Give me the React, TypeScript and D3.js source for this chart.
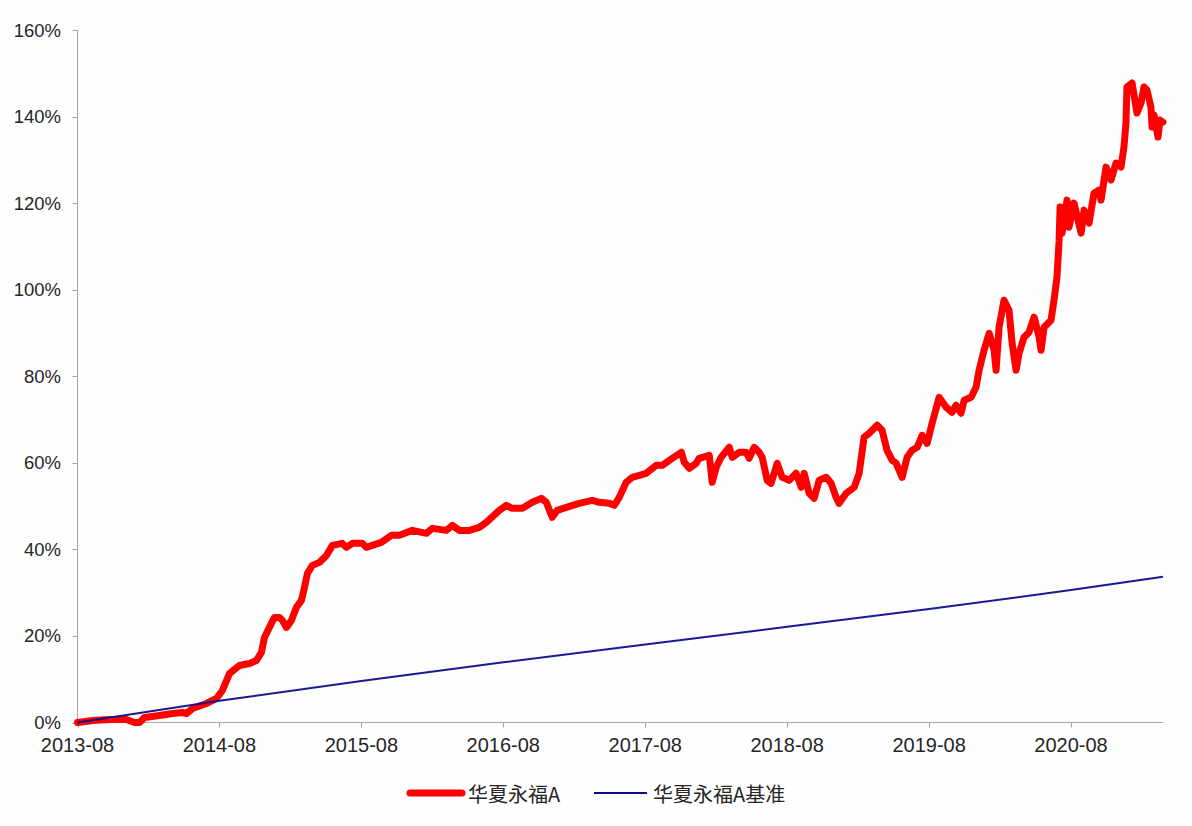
import React from "react";
import * as d3 from "d3";

// Time expressed as decimal years (2013-08 = 2013.583)
const fundYears: number[] = [
  2013.583, 2013.689, 2013.808, 2013.928, 2013.984, 2014.02, 2014.055, 2014.16, 2014.252, 2014.322,
  2014.351, 2014.393, 2014.491, 2014.562, 2014.604, 2014.654, 2014.724, 2014.795, 2014.844, 2014.879,
  2014.9, 2014.935, 2014.97, 2015.006, 2015.027, 2015.055, 2015.09, 2015.125, 2015.161, 2015.182,
  2015.203, 2015.238, 2015.287, 2015.337, 2015.379, 2015.449, 2015.477, 2015.52, 2015.59, 2015.618,
  2015.66, 2015.724, 2015.794, 2015.851, 2015.942, 2016.041, 2016.083, 2016.182, 2016.224, 2016.273,
  2016.344, 2016.414, 2016.463, 2016.555, 2016.604, 2016.646, 2016.717, 2016.787, 2016.851, 2016.886,
  2016.928, 2016.963, 2017.027, 2017.118, 2017.21, 2017.259, 2017.33, 2017.365, 2017.4, 2017.449,
  2017.491, 2017.541, 2017.59, 2017.661, 2017.703, 2017.773, 2017.837, 2017.858, 2017.893, 2017.942,
  2017.963, 2018.034, 2018.055, 2018.083, 2018.118, 2018.175, 2018.196, 2018.245, 2018.294, 2018.315,
  2018.351, 2018.386, 2018.407, 2018.442, 2018.47, 2018.513, 2018.548, 2018.597, 2018.646, 2018.682,
  2018.703, 2018.738, 2018.773, 2018.808, 2018.858, 2018.893, 2018.928, 2018.949, 2018.999, 2019.055,
  2019.09, 2019.125, 2019.161, 2019.217, 2019.252, 2019.287, 2019.323, 2019.351, 2019.393, 2019.428,
  2019.463, 2019.499, 2019.534, 2019.569, 2019.604, 2019.654, 2019.703, 2019.745, 2019.773, 2019.808,
  2019.83, 2019.879, 2019.914, 2019.935, 2019.97, 2020.006, 2020.041, 2020.055, 2020.076, 2020.111,
  2020.146, 2020.168, 2020.196, 2020.217, 2020.252, 2020.287, 2020.323, 2020.358, 2020.372, 2020.393,
  2020.442, 2020.463, 2020.484, 2020.491, 2020.499, 2020.506, 2020.52, 2020.555, 2020.569, 2020.604,
  2020.654, 2020.675, 2020.71, 2020.745, 2020.78, 2020.794, 2020.83, 2020.865, 2020.9, 2020.935,
  2020.956, 2020.97, 2020.977, 2021.013, 2021.048, 2021.076, 2021.097, 2021.118, 2021.146, 2021.154,
  2021.168, 2021.196, 2021.21, 2021.231,
];

// cumulative return of 华夏永福A, in %
const fundValues: number[] = [
  0, 0.46, 0.69, 0.69, 0, 0, 1.16, 1.62, 2.08, 2.31,
  2.08, 3.24, 4.39, 5.55, 7.4, 11.33, 13.18, 13.64, 14.34, 16.18,
  19.65, 21.97, 24.28, 24.28, 23.58, 21.97, 23.58, 26.59, 28.21, 31.21,
  34.45, 36.3, 36.99, 38.61, 40.92, 41.39, 40.46, 41.39, 41.39, 40.46,
  40.92, 41.62, 43.24, 43.24, 44.39, 43.7, 44.86, 44.39, 45.55, 44.39,
  44.39, 45.09, 46.24, 49.02, 50.17, 49.48, 49.48, 50.87, 51.79, 50.87,
  47.4, 49.02, 49.71, 50.64, 51.33, 50.87, 50.64, 50.17, 52.02, 55.49,
  56.65, 57.11, 57.57, 59.42, 59.42, 61.04, 62.43, 60.12, 58.73, 59.88,
  61.04, 61.73, 55.49, 58.96, 61.27, 63.58, 61.27, 62.43, 62.43, 61.04,
  63.58, 62.43, 61.27, 55.95, 55.26, 59.88, 56.65, 55.95, 57.57, 54.34,
  57.57, 52.95, 51.79, 55.95, 56.65, 55.26, 52.02, 50.64, 52.95, 54.34,
  57.57, 65.9, 66.82, 68.67, 67.51, 62.89, 60.58, 59.88, 56.65, 61.27,
  62.89, 63.58, 66.36, 64.51, 69.13, 75.14, 72.83, 71.68, 73.29, 71.45,
  74.45, 75.14, 77.46, 81.39, 86.01, 89.94, 86.01, 81.39, 91.33, 97.57,
  95.26, 87.63, 81.39, 85.32, 89.02, 90.17, 93.64, 89.02, 86.01, 91.33,
  92.95, 97.57, 102.89, 106.82, 111.45, 119.08, 113.06, 120.69, 114.45, 120.0,
  113.06, 118.38, 115.38, 122.31, 123.01, 120.69, 128.32, 125.32, 129.25, 128.32,
  132.95, 138.5, 146.82, 147.75, 140.81, 143.12, 146.82, 146.13, 142.2, 137.57,
  140.35, 135.26, 139.19, 138.73,
];

// benchmark 华夏永福A基准, in %
const benchYears: number[] = [2013.583, 2014.583, 2015.583, 2016.583, 2017.583, 2018.583, 2019.583, 2020.583, 2021.231];
const benchValues: number[] = [0, 5.0, 9.6, 13.9, 18.0, 22.1, 26.2, 30.6, 33.7];

const xTickYears: number[] = [2013.583, 2014.583, 2015.583, 2016.583, 2017.583, 2018.583, 2019.583, 2020.583];
const xTickLabels: string[] = ["2013-08", "2014-08", "2015-08", "2016-08", "2017-08", "2018-08", "2019-08", "2020-08"];
const yTicks: number[] = [0, 20, 40, 60, 80, 100, 120, 140, 160];
const seriesNames: string[] = ["华夏永福A", "华夏永福A基准"];

const W = 1192;
const H = 826;
const LEFT = 77.5;
const RIGHT = 1163;
const TOP = 30;
const BOTTOM = 722.5;

export default function App() {
  const x = d3.scaleLinear().domain([2013.583, 2021.231]).range([LEFT, RIGHT]);
  const y = d3.scaleLinear().domain([0, 160]).range([BOTTOM, TOP]);

  const fund = fundYears.map((t, i) => [t, fundValues[i]] as [number, number]);
  const bench = benchYears.map((t, i) => [t, benchValues[i]] as [number, number]);
  const line = d3
    .line<[number, number]>()
    .x((d) => x(d[0]))
    .y((d) => y(d[1]));

  const axisColor = "#a6a6a6";
  const textColor = "#262626";
  const latin = "'Liberation Sans', Arial, sans-serif";
  const cjk = "'Noto Sans CJK SC', 'Liberation Sans', sans-serif";

  return (
    <svg
      width={W}
      height={H}
      style={{ position: "absolute", left: 0, top: 0, background: "#fff" }}
    >
      <rect x={0} y={0} width={W} height={H} fill="#fefefe" />
      {/* y axis */}
      <line x1={LEFT} x2={LEFT} y1={TOP} y2={BOTTOM} stroke={axisColor} strokeWidth={1} />
      {yTicks.map((v) => (
        <g key={"y" + v}>
          <line x1={LEFT - 5} x2={LEFT} y1={Math.round(y(v)) + 0.5} y2={Math.round(y(v)) + 0.5} stroke={axisColor} />
          <text
            x={61}
            y={y(v)}
            textAnchor="end"
            dominantBaseline="central"
            fontFamily={latin}
            fontSize={18.5}
            fill={textColor}
          >
            {v + "%"}
          </text>
        </g>
      ))}
      {/* x axis */}
      <line x1={LEFT} x2={RIGHT} y1={BOTTOM} y2={BOTTOM} stroke={axisColor} strokeWidth={1} />
      {xTickYears.map((t, i) => (
        <g key={"x" + i}>
          <line x1={Math.round(x(t)) + 0.5} x2={Math.round(x(t)) + 0.5} y1={BOTTOM} y2={BOTTOM + 5} stroke={axisColor} />
          <text
            x={x(t)}
            y={752}
            textAnchor="middle"
            fontFamily={latin}
            fontSize={20}
            fill={textColor}
          >
            {xTickLabels[i]}
          </text>
        </g>
      ))}
      {/* series */}
      <path
        d={line(fund) || ""}
        fill="none"
        stroke="#ff0000"
        strokeWidth={7}
        strokeLinejoin="round"
        strokeLinecap="round"
      />
      <path d={line(bench) || ""} fill="none" stroke="#0d0d8c" strokeWidth={2} opacity={0.95} />
      {/* legend */}
      <line x1={410} x2={462} y1={793} y2={793} stroke="#ff0000" strokeWidth={7} strokeLinecap="round" />
      <text x={468} y={793} dominantBaseline="central" fontFamily={cjk} fontSize={20} fill={textColor}>
        {seriesNames[0]}
      </text>
      <line x1={594} x2={647} y1={793} y2={793} stroke="#0d0d8c" strokeWidth={2} />
      <text x={653} y={793} dominantBaseline="central" fontFamily={cjk} fontSize={20} fill={textColor}>
        {seriesNames[1]}
      </text>
    </svg>
  );
}
